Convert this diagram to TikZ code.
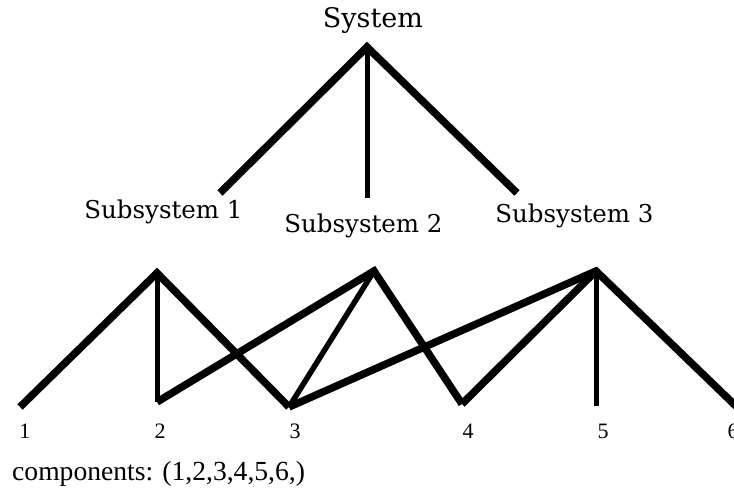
\documentclass[tikz,border=0pt]{standalone}
\usepackage{fontspec}
\setmainfont{Liberation Serif}
\newfontfamily\headfont{DejaVu Serif}
\begin{document}
\begin{tikzpicture}[x=1pt,y=-1pt,
  heavy/.style={line width=7.5pt,line cap=butt,line join=miter},
  light/.style={line width=5pt,line cap=butt,line join=miter},
  medium/.style={line width=5.5pt,line cap=butt,line join=miter},
  title/.style={inner sep=0pt,anchor=base,font=\headfont\fontsize{27}{27}\selectfont},
  sublabel/.style={inner sep=0pt,anchor=base,font=\headfont\fontsize{24.5}{24.5}\selectfont},
  digit/.style={inner sep=0pt,anchor=base,font=\fontsize{22}{22}\selectfont}]
\useasboundingbox (0,0) rectangle (734,489);

% top level
\node[title] (sys) at (373,28) {System};
\coordinate (top) at (367,47);
\coordinate (e1) at (220,193);
\coordinate (e2) at (367,198);
\coordinate (e3) at (517,193);
\draw[heavy] (e1) -- (top) -- (e3);
\draw[light] (top) -- (e2);

% subsystem labels
\node[sublabel] (s1) at (163.5,219) {Subsystem 1};
\node[sublabel] (s2) at (363.5,233) {Subsystem 2};
\node[sublabel] (s3) at (574.5,223) {Subsystem 3};

% subsystem apexes and component points
\coordinate (a1) at (157,273);
\coordinate (a2) at (374,271);
\coordinate (a3) at (596,271);
\coordinate (c1) at (20,407);
\coordinate (c2) at (157,402);
\coordinate (c3) at (289,407);
\coordinate (c4) at (462,404);
\coordinate (c5) at (596,406);
\coordinate (c6) at (740,410);

\draw[heavy] (c1) -- (a1) -- (c3);
\draw[light] (a1) -- (c2);
\draw[heavy] (c2) -- (a2) -- (c4);
\draw[medium] (a2) -- (c3);
\draw[heavy] (c3) -- (a3) -- (c6);
\draw[heavy] (a3) -- (c4);
\draw[light] (a3) -- (c5);

% component numbers
\node[digit] (n1) at (25,438) {1};
\node[digit] (n2) at (160,438) {2};
\node[digit] (n3) at (295,438) {3};
\node[digit] (n4) at (468,438) {4};
\node[digit] (n5) at (603,438) {5};
\node[digit] (n6) at (733,438) {6};

\node[inner sep=0pt,anchor=base west,font=\fontsize{27.6}{27.6}\selectfont] (comp) at (12,480) {components: (1,2,3,4,5,6,)};
\end{tikzpicture}
\end{document}
